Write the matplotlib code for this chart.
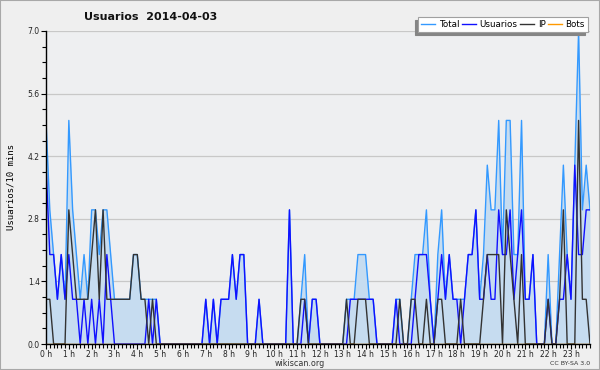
import numpy as np
import matplotlib
matplotlib.use('Agg')
import matplotlib.pyplot as plt
from matplotlib.ticker import MultipleLocator, FixedLocator

# one value per 10 minute slot, 6 per hour
total = [5, 3, 2, 1, 2, 1,   5, 3, 2, 1, 2, 1,   3, 3, 2, 3, 3, 2,
         1, 1, 1, 1, 1, 2,   2, 1, 1, 1, 1, 1,   0, 0, 0, 0, 0, 0,
         0, 0, 0, 0, 0, 0,   1, 0, 1, 0, 1, 1,   1, 2, 1, 2, 2, 0,
         0, 0, 1, 0, 0, 0,   0, 0, 0, 0, 3, 0,   0, 1, 2, 0, 1, 1,
         0, 0, 0, 0, 0, 0,   0, 1, 1, 1, 2, 2,   2, 1, 1, 0, 0, 0,
         0, 0, 1, 1, 0, 0,   1, 2, 2, 2, 3, 1,   0, 2, 3, 1, 2, 1,
         1, 1, 1, 2, 2, 3,   1, 2, 4, 3, 3, 5,   2, 5, 5, 2, 2, 5,
         1, 1, 2, 0, 0, 0,   2, 0, 0, 2, 4, 2,   1, 4, 7, 3, 4, 3]

usuarios = [4, 2, 2, 1, 2, 1,   2, 1, 1, 0, 1, 0,   1, 0, 1, 0, 2, 1,
            0, 0, 0, 0, 0, 0,   0, 0, 0, 1, 0, 1,   0, 0, 0, 0, 0, 0,
            0, 0, 0, 0, 0, 0,   1, 0, 1, 0, 1, 1,   1, 2, 1, 2, 2, 0,
            0, 0, 1, 0, 0, 0,   0, 0, 0, 0, 3, 0,   0, 0, 1, 0, 1, 1,
            0, 0, 0, 0, 0, 0,   0, 0, 1, 1, 1, 1,   1, 1, 1, 0, 0, 0,
            0, 0, 1, 0, 0, 0,   0, 1, 2, 2, 2, 1,   0, 1, 2, 1, 2, 1,
            1, 0, 1, 2, 2, 3,   1, 1, 2, 1, 1, 3,   2, 2, 3, 1, 2, 3,
            1, 1, 2, 0, 0, 0,   1, 0, 0, 1, 1, 2,   1, 4, 2, 2, 3, 3]

ip = [1, 1, 0, 0, 0, 0,   3, 2, 1, 1, 1, 1,   2, 3, 1, 3, 1, 1,
      1, 1, 1, 1, 1, 2,   2, 1, 1, 0, 1, 0,   0, 0, 0, 0, 0, 0,
      0, 0, 0, 0, 0, 0,   0, 0, 0, 0, 0, 0,   0, 0, 0, 0, 0, 0,
      0, 0, 0, 0, 0, 0,   0, 0, 0, 0, 0, 0,   0, 1, 1, 0, 0, 0,
      0, 0, 0, 0, 0, 0,   0, 1, 0, 0, 1, 1,   1, 0, 0, 0, 0, 0,
      0, 0, 0, 1, 0, 0,   1, 1, 0, 0, 1, 0,   0, 1, 1, 0, 0, 0,
      0, 1, 0, 0, 0, 0,   0, 1, 2, 2, 2, 2,   0, 3, 2, 1, 0, 2,
      0, 0, 0, 0, 0, 0,   1, 0, 0, 1, 3, 0,   0, 0, 5, 1, 1, 0]

bots = [0] * 144

hour_labels = [f'{h} h' for h in range(24)]
y_ticks = [0.0, 1.4, 2.8, 4.2, 5.6, 7.0]

BG = '#eeeff1'

fig = plt.figure(figsize=(6, 3.7), dpi=100, facecolor='#efefef')
fig.patches.append(plt.Rectangle((0, 0), 1, 1, transform=fig.transFigure,
                                 fill=False, edgecolor='#a8a8a8', lw=1.5))
ax = fig.add_axes([46 / 600, 26 / 370, 544 / 600, 313 / 370])
ax.set_facecolor(BG)

slots = np.arange(len(total))

ax.fill_between(slots, total, 0, color='#c6dcf0', lw=0, zorder=1)
ax.plot(slots, total, color='#3399ff', lw=1.0, label='Total', zorder=2)
ax.plot(slots, usuarios, color='#1010ff', lw=1.0, label='Usuarios', zorder=2)
ax.plot(slots, ip, color='#333333', lw=1.0, label='IP', zorder=2)
ax.plot(slots, bots, color='#ff9900', lw=1.0, label='Bots', zorder=2)

ax.set_xlim(0, len(total) - 1)
ax.set_ylim(0, 7.0)

ax.yaxis.set_major_locator(FixedLocator(y_ticks))
ax.yaxis.set_minor_locator(MultipleLocator(0.35))
ax.set_yticklabels([f'{v:.1f}' for v in y_ticks])
ax.xaxis.set_major_locator(FixedLocator(range(0, 144, 6)))
ax.xaxis.set_minor_locator(MultipleLocator(1))
ax.set_xticklabels(hour_labels)

ax.tick_params(axis='both', which='major', labelsize=5.5, length=3.5, width=0.8,
               colors='black', pad=1)
ax.tick_params(axis='both', which='minor', length=3, width=0.8)
for lab in ax.get_xticklabels() + ax.get_yticklabels():
    lab.set_color('#222222')

ax.grid(axis='y', which='major', color='#c8c8c8', lw=0.9, zorder=0)
ax.set_axisbelow(True)
for side in ['top', 'right']:
    ax.spines[side].set_visible(False)
for side in ['left', 'bottom']:
    ax.spines[side].set_linewidth(1.0)
    ax.spines[side].set_zorder(3)

ax.set_ylabel('Usuarios/10 mins', family='DejaVu Sans Mono', fontsize=6.5,
              labelpad=9)

fig.text(151 / 600, 1 - 17 / 370, 'Usuarios  2014-04-03', ha='center', va='center',
         fontsize=8, fontweight='bold', color='#111111')
fig.text(300 / 600, 1 - 363.5 / 370, 'wikiscan.org', ha='center', va='center',
         fontsize=5.8, color='#333333')
fig.text(590 / 600, 1 - 363.5 / 370, 'CC BY-SA 3.0', ha='right', va='center',
         fontsize=4.5, color='#333333')

leg = ax.legend(loc='upper right', bbox_to_anchor=(588 / 600, 1 - 17 / 370),
                bbox_transform=fig.transFigure, ncol=4, fontsize=6.3,
                frameon=True, fancybox=False, borderaxespad=0, borderpad=0.35,
                handlelength=1.6, handletextpad=0.4, columnspacing=0.3,
                shadow={'ox': -2.2, 'oy': -2.2, 'facecolor': '#858585',
                        'edgecolor': '#858585', 'alpha': 1})
leg.get_frame().set_facecolor('white')
leg.get_frame().set_edgecolor('#a0a0a0')
leg.get_frame().set_linewidth(0.8)

fig.savefig('out.png', dpi=100, facecolor=fig.get_facecolor())
